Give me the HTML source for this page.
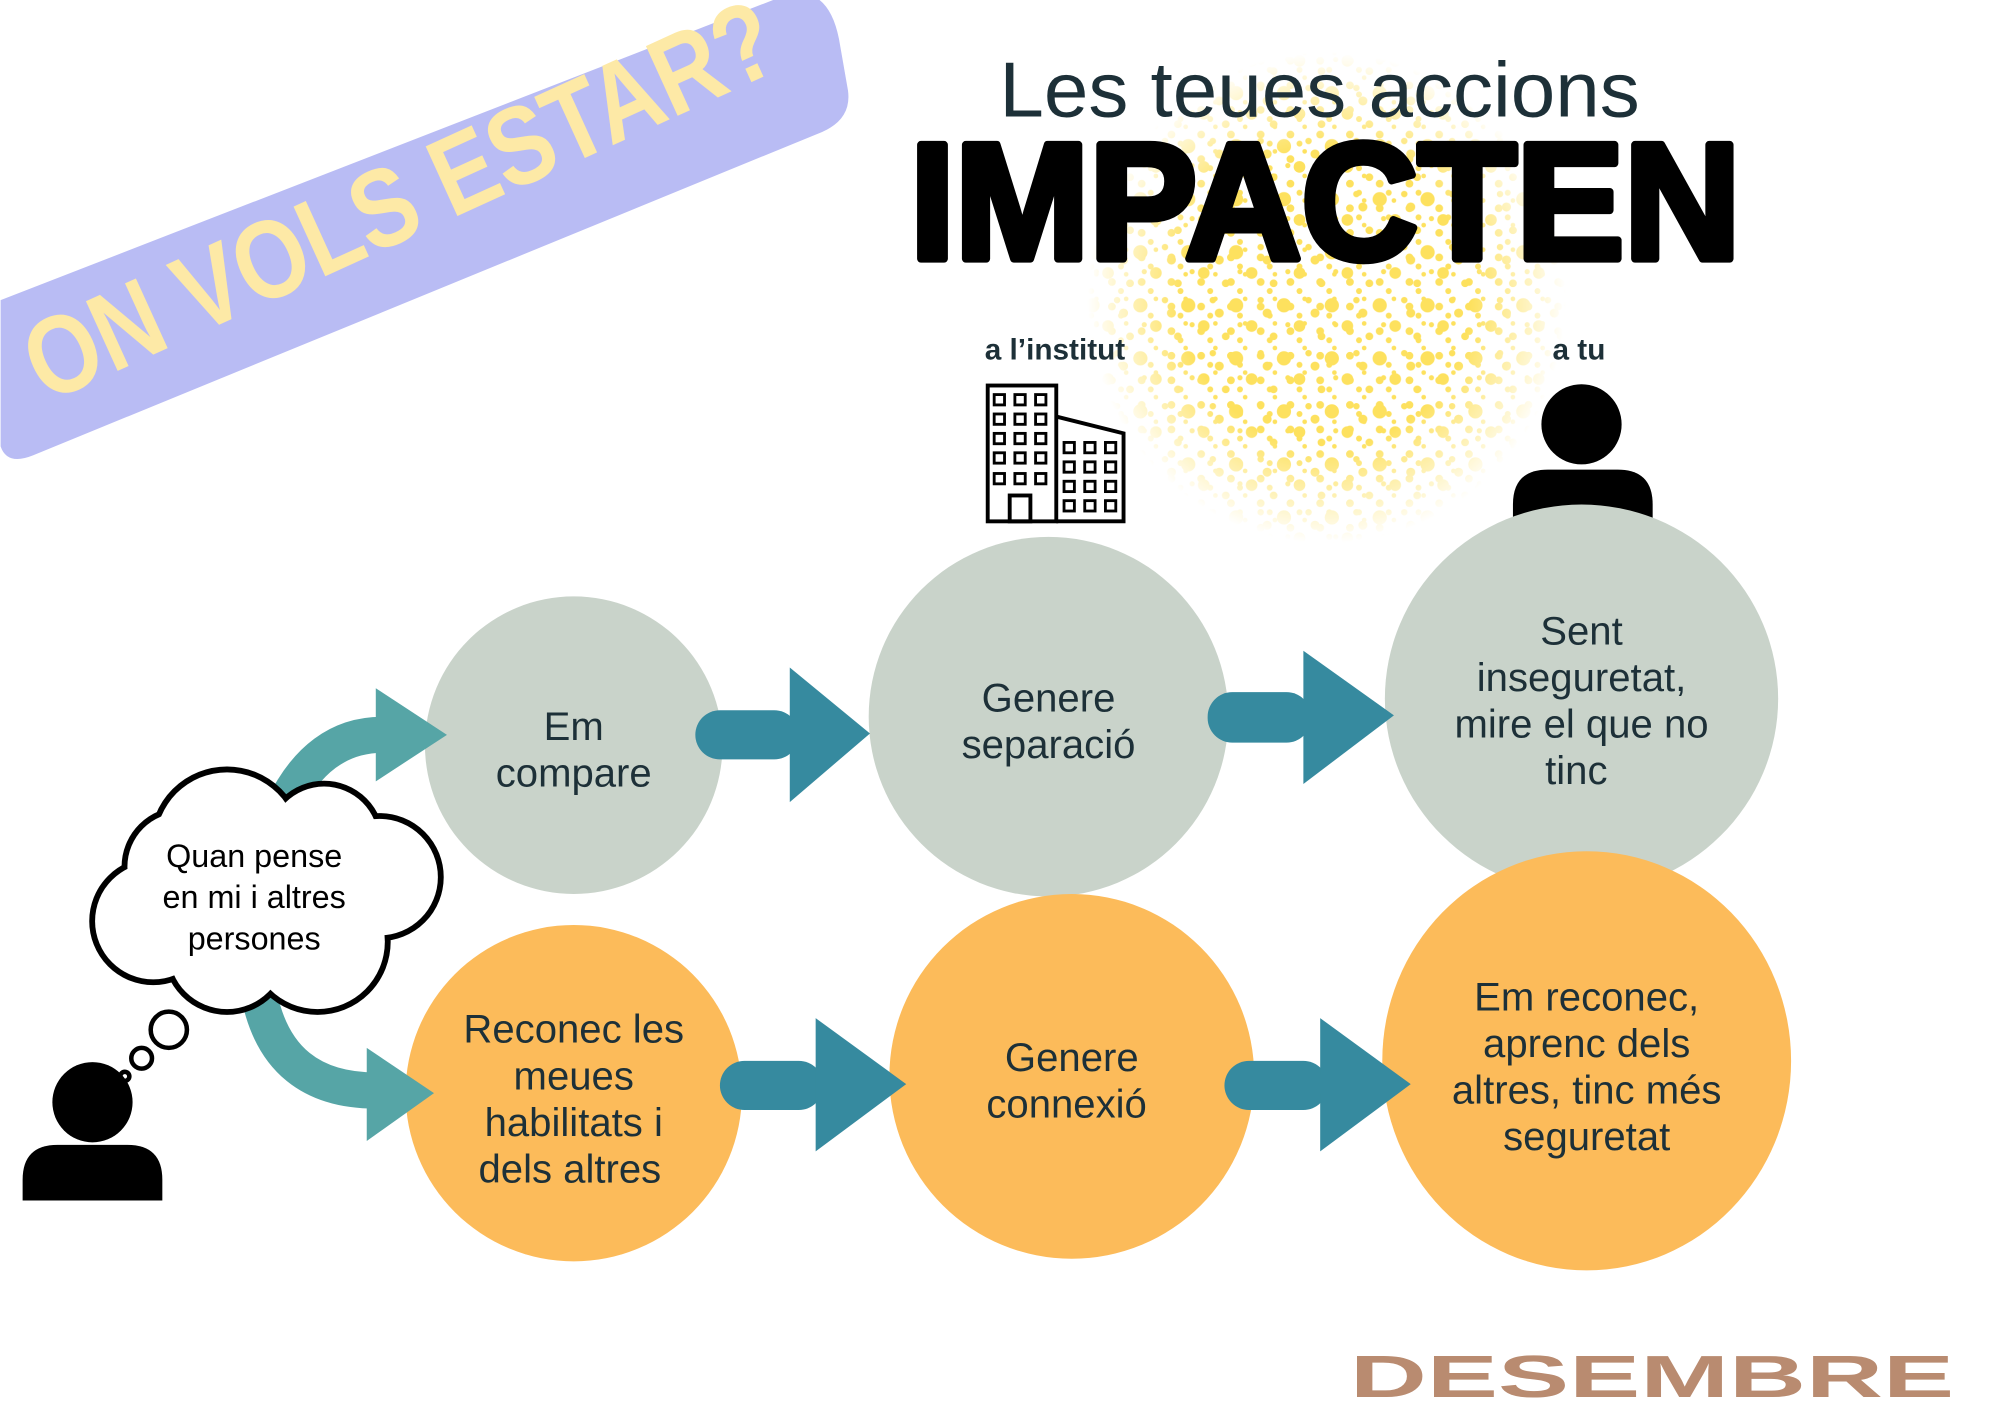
<!DOCTYPE html>
<html><head><meta charset="utf-8"><style>
html,body{margin:0;padding:0;background:#fff}
svg{display:block}
text{font-family:"Liberation Sans",sans-serif}
</style></head><body>
<svg width="2000" height="1414" viewBox="0 0 1545 1093" xmlns="http://www.w3.org/2000/svg">
<defs>
<pattern id="p1" width="37" height="41" patternUnits="userSpaceOnUse">
<circle cx="5" cy="6" r="4.5" fill="#fde15e"/><circle cx="22" cy="14" r="3" fill="#fde15e"/>
<circle cx="30" cy="31" r="5.5" fill="#fde15e"/><circle cx="12" cy="27" r="2.5" fill="#fde15e"/>
<circle cx="17" cy="37" r="3.5" fill="#fde15e"/><circle cx="33" cy="5" r="2" fill="#fde15e"/>
</pattern>
<pattern id="p2" width="23" height="19" patternUnits="userSpaceOnUse">
<circle cx="8" cy="9" r="3" fill="#fde15e"/><circle cx="19" cy="3" r="1.8" fill="#fde15e"/><circle cx="15" cy="16" r="2.3" fill="#fde15e"/>
</pattern>
<radialGradient id="rg" cx="0.5" cy="0.5" r="0.5">
<stop offset="0" stop-color="#fff" stop-opacity="1"/><stop offset="0.6" stop-color="#fff" stop-opacity="1"/><stop offset="1" stop-color="#fff" stop-opacity="0"/>
</radialGradient>
<mask id="m"><ellipse cx="1025" cy="230" rx="185" ry="190" fill="url(#rg)"/></mask>
</defs>

<!-- banner -->
<path d="M0,232 L610,-5 Q640,-10 648,30 L655,70 Q658,92 635,102 L25,352 Q5,360 0,345 Z" fill="#b9bcf4"/>
<text x="0" y="0" transform="translate(35,312) rotate(-24.5)" font-size="86" font-weight="bold" fill="#fde9a6" textLength="628" lengthAdjust="spacingAndGlyphs">ON VOLS ESTAR?</text>

<!-- splatter -->
<g mask="url(#m)"><rect x="820" y="20" width="420" height="400" fill="url(#p1)"/><rect x="820" y="20" width="420" height="400" fill="url(#p2)"/></g>

<text x="772" y="90" font-size="60" fill="#1d3038" textLength="495" lengthAdjust="spacingAndGlyphs">Les teues accions</text>
<text x="703" y="200" font-size="128" font-weight="900" fill="#000" stroke="#000" stroke-width="6" stroke-linejoin="round" textLength="642" lengthAdjust="spacingAndGlyphs">IMPACTEN</text>

<text x="815" y="278" font-size="23" font-weight="bold" fill="#1d3038" text-anchor="middle">a l’institut</text>
<text x="1220" y="278" font-size="23" font-weight="bold" fill="#1d3038" text-anchor="middle">a tu</text>

<!-- building -->
<g fill="none" stroke="#000" stroke-width="3">
<rect x="763" y="298" width="53" height="105"/>
<path d="M816,322 L868,335 L868,403 L816,403"/>
<rect x="780" y="383" width="16" height="20"/>
</g>
<g fill="none" stroke="#000" stroke-width="2.2">
<rect x="768" y="305" width="8" height="8"/><rect x="784" y="305" width="8" height="8"/><rect x="800" y="305" width="8" height="8"/>
<rect x="768" y="320" width="8" height="8"/><rect x="784" y="320" width="8" height="8"/><rect x="800" y="320" width="8" height="8"/>
<rect x="768" y="335" width="8" height="8"/><rect x="784" y="335" width="8" height="8"/><rect x="800" y="335" width="8" height="8"/>
<rect x="768" y="350" width="8" height="8"/><rect x="784" y="350" width="8" height="8"/><rect x="800" y="350" width="8" height="8"/>
<rect x="768" y="366" width="8" height="8"/><rect x="784" y="366" width="8" height="8"/><rect x="800" y="366" width="8" height="8"/>
<rect x="822" y="342" width="8" height="8"/><rect x="838" y="342" width="8" height="8"/><rect x="854" y="342" width="8" height="8"/>
<rect x="822" y="357" width="8" height="8"/><rect x="838" y="357" width="8" height="8"/><rect x="854" y="357" width="8" height="8"/>
<rect x="822" y="372" width="8" height="8"/><rect x="838" y="372" width="8" height="8"/><rect x="854" y="372" width="8" height="8"/>
<rect x="822" y="387" width="8" height="8"/><rect x="838" y="387" width="8" height="8"/><rect x="854" y="387" width="8" height="8"/>
</g>

<!-- person right -->
<circle cx="1222" cy="328" r="31" fill="#000"/>
<path d="M1169,404 L1169,390 Q1169,363 1196,363 L1250,363 Q1277,363 1277,390 L1277,404 Z" fill="#000"/>

<!-- circles -->
<circle cx="443" cy="576" r="115" fill="#c9d3ca"/>
<circle cx="810" cy="554" r="139" fill="#c9d3ca"/>
<ellipse cx="1222" cy="540" rx="152" ry="150" fill="#c9d3ca"/>
<circle cx="443" cy="845" r="130" fill="#fcbb5a"/>
<circle cx="828" cy="832" r="141" fill="#fcbb5a"/>
<ellipse cx="1226" cy="820" rx="158" ry="162" fill="#fcbb5a"/>

<!-- block arrows -->
<g fill="#368a9f">
<rect x="537" y="549" width="80" height="38" rx="19"/><path d="M610,516 L672,567 L610,620 Z"/>
<rect x="933" y="535" width="80" height="39" rx="19"/><path d="M1007,503 L1077,553 L1007,606 Z"/>
<rect x="556" y="820" width="80" height="38" rx="19"/><path d="M630,787 L700,838 L630,890 Z"/>
<rect x="946" y="820" width="80" height="38" rx="19"/><path d="M1020,787 L1090,838 L1020,890 Z"/>
</g>

<!-- curved arrows -->
<g fill="none" stroke="#56a5a6" stroke-width="28">
<path d="M218,625 Q245,568 295,568"/>
<path d="M200,770 Q215,843 290,843"/>
</g>
<path d="M290,532 L345,568 L290,604 Z" fill="#56a5a6"/>
<path d="M283,810 L335,845 L283,882 Z" fill="#56a5a6"/>

<!-- cloud -->
<g stroke="#000" stroke-width="9" fill="#fff">
<circle cx="175" cy="652" r="55"/><circle cx="250" cy="650" r="42"/><circle cx="293" cy="678" r="45"/>
<circle cx="245" cy="728" r="52"/><circle cx="175" cy="735" r="45"/><circle cx="118" cy="712" r="45"/><circle cx="140" cy="670" r="42"/>
</g>
<g fill="#fff">
<circle cx="175" cy="652" r="55"/><circle cx="250" cy="650" r="42"/><circle cx="293" cy="678" r="45"/>
<circle cx="245" cy="728" r="52"/><circle cx="175" cy="735" r="45"/><circle cx="118" cy="712" r="45"/><circle cx="140" cy="670" r="42"/>
<circle cx="200" cy="692" r="65"/>
</g>
<g font-size="25" fill="#000" text-anchor="middle">
<text x="196" y="670">Quan pense</text><text x="196" y="702">en mi i altres</text><text x="196" y="734">persones</text>
</g>
<g fill="#fff" stroke="#000" stroke-width="3.5">
<circle cx="130" cy="796" r="14"/><circle cx="109" cy="818" r="8"/><circle cx="96" cy="832" r="3.5"/>
</g>

<!-- person left -->
<circle cx="71" cy="852" r="31" fill="#000"/>
<path d="M17,928 L17,912 Q17,885 44,885 L98,885 Q125,885 125,912 L125,928 Z" fill="#000"/>

<!-- circle texts -->
<g font-size="31" fill="#1d3038" text-anchor="middle">
<text x="443" y="572">Em</text><text x="443" y="608">compare</text>
<text x="810" y="550">Genere</text><text x="810" y="586">separació</text>
<text x="1222" y="498">Sent</text><text x="1222" y="534">inseguretat,</text><text x="1222" y="570">mire el que no</text><text x="1218" y="606">tinc</text>
<text x="443" y="806">Reconec les</text><text x="443" y="842">meues</text><text x="443" y="878">habilitats i</text><text x="440" y="914">dels altres</text>
<text x="828" y="828">Genere</text><text x="824" y="864">connexió</text>
<text x="1226" y="781">Em reconec,</text><text x="1226" y="817">aprenc dels</text><text x="1226" y="853">altres, tinc més</text><text x="1226" y="889">seguretat</text>
</g>

<text x="1043" y="1080" font-size="46" font-weight="bold" fill="#b98b70" textLength="467" lengthAdjust="spacingAndGlyphs">DESEMBRE</text>
</svg>
</body></html>
